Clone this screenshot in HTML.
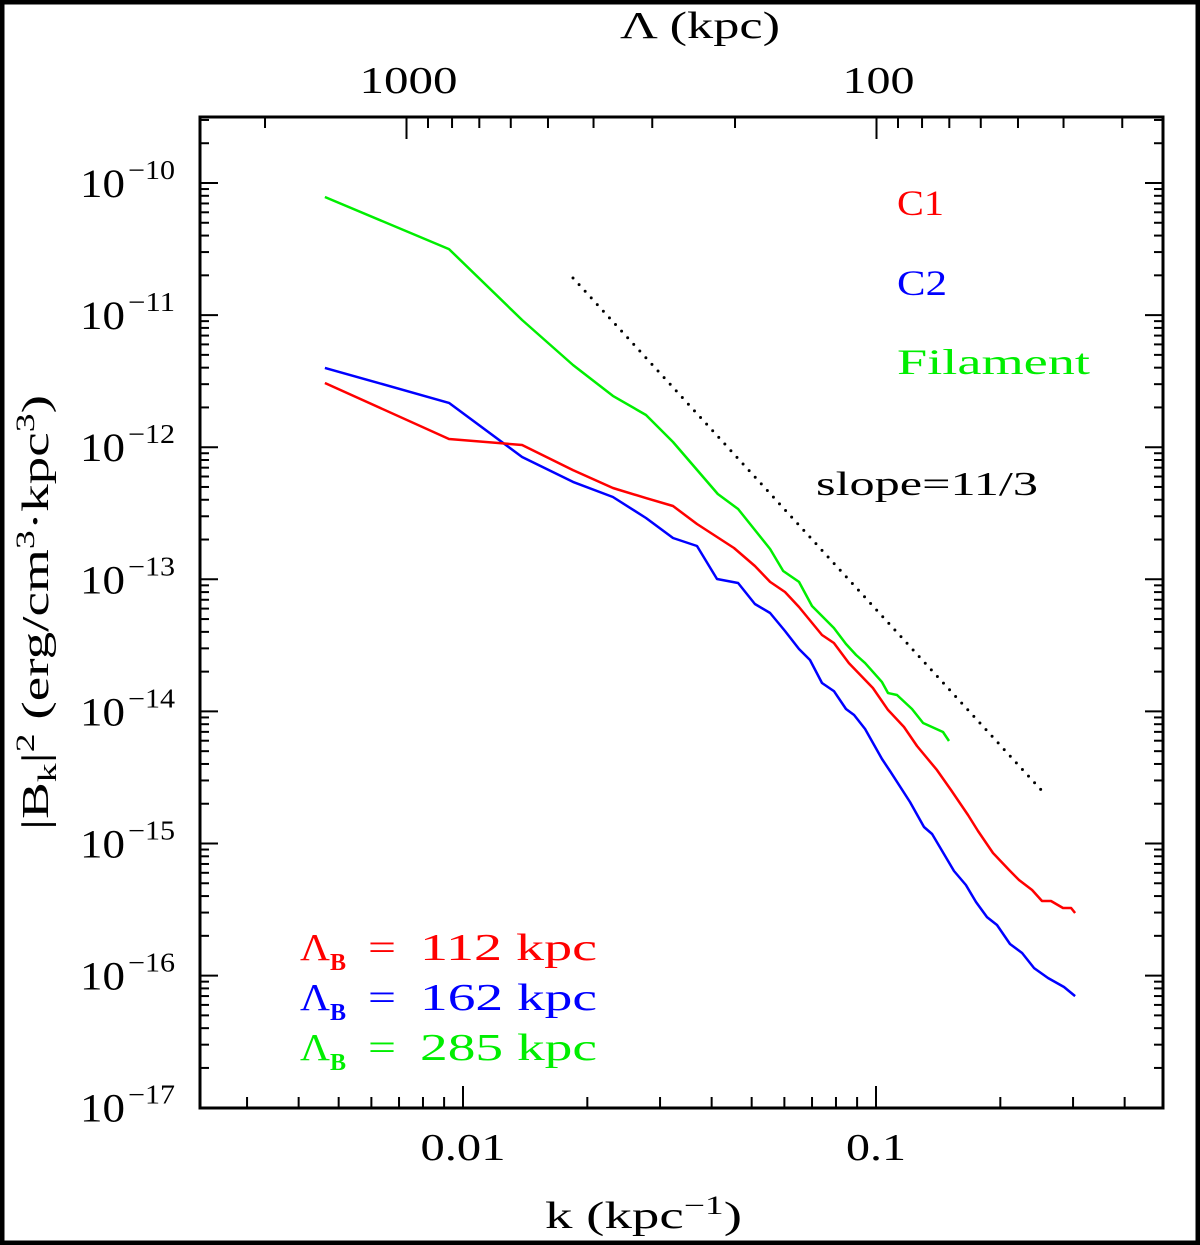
<!DOCTYPE html>
<html><head><meta charset="utf-8"><style>
html,body{margin:0;padding:0;background:#fff;}
svg{display:block;}
text{font-family:"Liberation Serif",serif;}
</style></head><body>
<svg id="chart" width="1200" height="1245" viewBox="0 0 1200 1245">
<rect x="2" y="2" width="1196" height="1241" fill="#fff" stroke="#000" stroke-width="5"/>
<g id="ticks"></g>
<g id="series"></g>
<rect x="200" y="117" width="963" height="991" fill="none" stroke="#000" stroke-width="3"/>
<text x="620" y="38" font-size="38" textLength="160" lengthAdjust="spacingAndGlyphs">Λ (kpc)</text>
<text x="545" y="1228" font-size="38" textLength="197" lengthAdjust="spacingAndGlyphs">k (kpc<tspan font-size="26" dy="-14">−1</tspan><tspan dy="14">)</tspan></text>
<text transform="translate(48,830) rotate(-90)" font-size="38" textLength="435" lengthAdjust="spacingAndGlyphs">|B<tspan font-size="26" dy="8">k</tspan><tspan dy="-8">|</tspan><tspan font-size="26" dy="-14">2</tspan><tspan dy="14"> (erg/cm</tspan><tspan font-size="26" dy="-14">3</tspan><tspan dy="14">·kpc</tspan><tspan font-size="26" dy="-14">3</tspan><tspan dy="14">)</tspan></text>
<text x="897" y="215" font-size="36" fill="#ff0000" textLength="47" lengthAdjust="spacingAndGlyphs">C1</text>
<text x="897" y="295" font-size="36" fill="#0000ff" textLength="50" lengthAdjust="spacingAndGlyphs">C2</text>
<text x="897" y="374" font-size="36" fill="#00ee00" textLength="193" lengthAdjust="spacingAndGlyphs">Filament</text>
<text x="816" y="495" font-size="34" fill="#000" textLength="222" lengthAdjust="spacingAndGlyphs">slope=11/3</text>
<g font-size="38">
<text x="300" y="960" fill="#ff0000"><tspan textLength="30" lengthAdjust="spacingAndGlyphs">Λ</tspan><tspan font-size="24" font-weight="bold" x="330" dy="10">B</tspan><tspan x="368" dy="-10" textLength="28" lengthAdjust="spacingAndGlyphs">=</tspan><tspan x="420" textLength="177" lengthAdjust="spacingAndGlyphs">112 kpc</tspan></text>
<text x="300" y="1010" fill="#0000ff"><tspan textLength="30" lengthAdjust="spacingAndGlyphs">Λ</tspan><tspan font-size="24" font-weight="bold" x="330" dy="10">B</tspan><tspan x="368" dy="-10" textLength="28" lengthAdjust="spacingAndGlyphs">=</tspan><tspan x="420" textLength="177" lengthAdjust="spacingAndGlyphs">162 kpc</tspan></text>
<text x="300" y="1060" fill="#00ee00"><tspan textLength="30" lengthAdjust="spacingAndGlyphs">Λ</tspan><tspan font-size="24" font-weight="bold" x="330" dy="10">B</tspan><tspan x="368" dy="-10" textLength="28" lengthAdjust="spacingAndGlyphs">=</tspan><tspan x="420" textLength="177" lengthAdjust="spacingAndGlyphs">285 kpc</tspan></text>
</g>
</svg>
<script>
const c1K=[0.00463,0.00925,0.0139,0.01846,0.02307,0.02774,0.03225,0.03686,0.04532,0.0509,0.0554,0.0602,0.0651,0.0740,0.0791,0.0860,0.0983,0.1069,0.1169,0.1257,0.1405,0.1519,0.1670,0.1766,0.1920,0.2099,0.2220,0.2387,0.2523,0.2653,0.2837,0.2967,0.3034];
const c1LogP=[-11.514,-11.938,-11.983,-12.173,-12.309,-12.385,-12.445,-12.581,-12.763,-12.899,-13.020,-13.096,-13.210,-13.422,-13.482,-13.634,-13.823,-13.989,-14.118,-14.262,-14.444,-14.595,-14.784,-14.905,-15.072,-15.200,-15.276,-15.352,-15.435,-15.435,-15.488,-15.488,-15.526];
const c2K=[0.00463,0.00925,0.0139,0.01846,0.02307,0.02774,0.03225,0.03686,0.0412,0.04635,0.0509,0.0554,0.0602,0.0651,0.0692,0.0740,0.0791,0.0846,0.0885,0.0941,0.1034,0.1081,0.1209,0.1307,0.1367,0.1545,0.1651,0.1746,0.1857,0.1963,0.2111,0.2258,0.2414,0.2609,0.2853,0.3034];
const c2LogP=[-11.400,-11.665,-12.074,-12.263,-12.377,-12.536,-12.687,-12.748,-12.998,-13.028,-13.187,-13.255,-13.391,-13.528,-13.611,-13.785,-13.846,-13.982,-14.027,-14.133,-14.360,-14.451,-14.686,-14.875,-14.928,-15.208,-15.314,-15.443,-15.557,-15.617,-15.761,-15.829,-15.943,-16.018,-16.086,-16.155];
const filK=[0.00463,0.00925,0.0139,0.01846,0.02307,0.02774,0.03225,0.0414,0.04635,0.0554,0.0596,0.0651,0.0700,0.0791,0.0846,0.0895,0.0941,0.1034,0.1069,0.1124,0.1222,0.1300,0.1453,0.1502];
const filLogP=[-10.106,-10.500,-11.037,-11.378,-11.612,-11.756,-11.961,-12.354,-12.468,-12.771,-12.937,-13.020,-13.202,-13.369,-13.490,-13.573,-13.634,-13.778,-13.861,-13.876,-13.982,-14.088,-14.156,-14.224];
const slopeK=[0.01846,0.2537];
const slopeLogP=[-10.719,-14.610];
const yTickExps=[-10,-11,-12,-13,-14,-15,-16,-17];
const xTickLabels=["0.01","0.1"];
const xTickValues=[0.01,0.1];
const topTickLabels=["1000","100"];
const topTickValues=[1000,100];

const NS="http://www.w3.org/2000/svg";
const L=200,R=1163,T=117,B=1108;
function xs(k){return 463+(Math.log10(k)+2)*413;}
function ys(lp){return 183-(lp+10)*132.1;}
function xt(lam){return 406.5+(3-Math.log10(lam))*470;}
function mk(tag,attrs,parent){const e=document.createElementNS(NS,tag);for(const a in attrs)e.setAttribute(a,attrs[a]);parent.appendChild(e);return e;}
const tg=document.getElementById('ticks');
function tick(x1,y1,x2,y2){const l=mk('line',{x1:x1,y1:y1,x2:x2,y2:y2,stroke:'#000','stroke-width':2},tg);

}
for(let d=-3;d<=0;d++){for(let m=1;m<=9;m++){const k=m*Math.pow(10,d);const x=xs(k);if(x<L+1||x>R-1)continue;const len=m===1?22:11;tick(x,B,x,B-len);}}
for(let d=1;d<=3;d++){for(let m=1;m<=9;m++){const lam=m*Math.pow(10,d);const x=xt(lam);if(x<L+1||x>R-1)continue;const len=m===1?22:11;tick(x,T,x,T+len);}}
for(let e=-18;e<=-10;e++){for(let m=1;m<=9;m++){const lp=e+Math.log10(m);const y=ys(lp);if(y<T+1||y>B-1)continue;const len=m===1?18:9;tick(L,y,L+len,y);tick(R,y,R-len,y);}}
const svg=document.getElementById('chart');
yTickExps.forEach(e=>{
const t=mk('text',{x:80,y:ys(e)+14,'font-size':40,textLength:45,lengthAdjust:'spacingAndGlyphs'},svg);


t.textContent='10';
const s=mk('text',{x:128,y:ys(e)-4,'font-size':27,textLength:47,lengthAdjust:'spacingAndGlyphs'},svg);


s.textContent='−'+(-e);});
xTickValues.forEach((v,i)=>{const t=mk('text',{x:xs(v),y:1160,'font-size':38,'text-anchor':'middle',textLength:i===0?85:60,lengthAdjust:'spacingAndGlyphs'},svg);


t.textContent=xTickLabels[i];});
topTickValues.forEach((v,i)=>{const t=mk('text',{x:xt(v)+2,y:93,'font-size':38,'text-anchor':'middle',textLength:i===0?98:72,lengthAdjust:'spacingAndGlyphs'},svg);


t.textContent=topTickLabels[i];});
const sg=document.getElementById('series');
function line(ks,lps,color,name,dash){const pts=ks.map((k,i)=>xs(k).toFixed(1)+','+ys(lps[i]).toFixed(1)).join(' ');
const p=mk('polyline',{points:pts,fill:'none',stroke:color,'stroke-width':dash?3:2.5,'stroke-linejoin':'round'},sg);
if(dash){p.setAttribute('stroke-dasharray','0 9');p.setAttribute('stroke-linecap','round');}

}
line(slopeK,slopeLogP,'#000','slope-reference-line',true);
line(filK,filLogP,'#00ee00','filament-line');
line(c2K,c2LogP,'#0000ff','c2-line');
line(c1K,c1LogP,'#ff0000','c1-line');
</script>
</body></html>
